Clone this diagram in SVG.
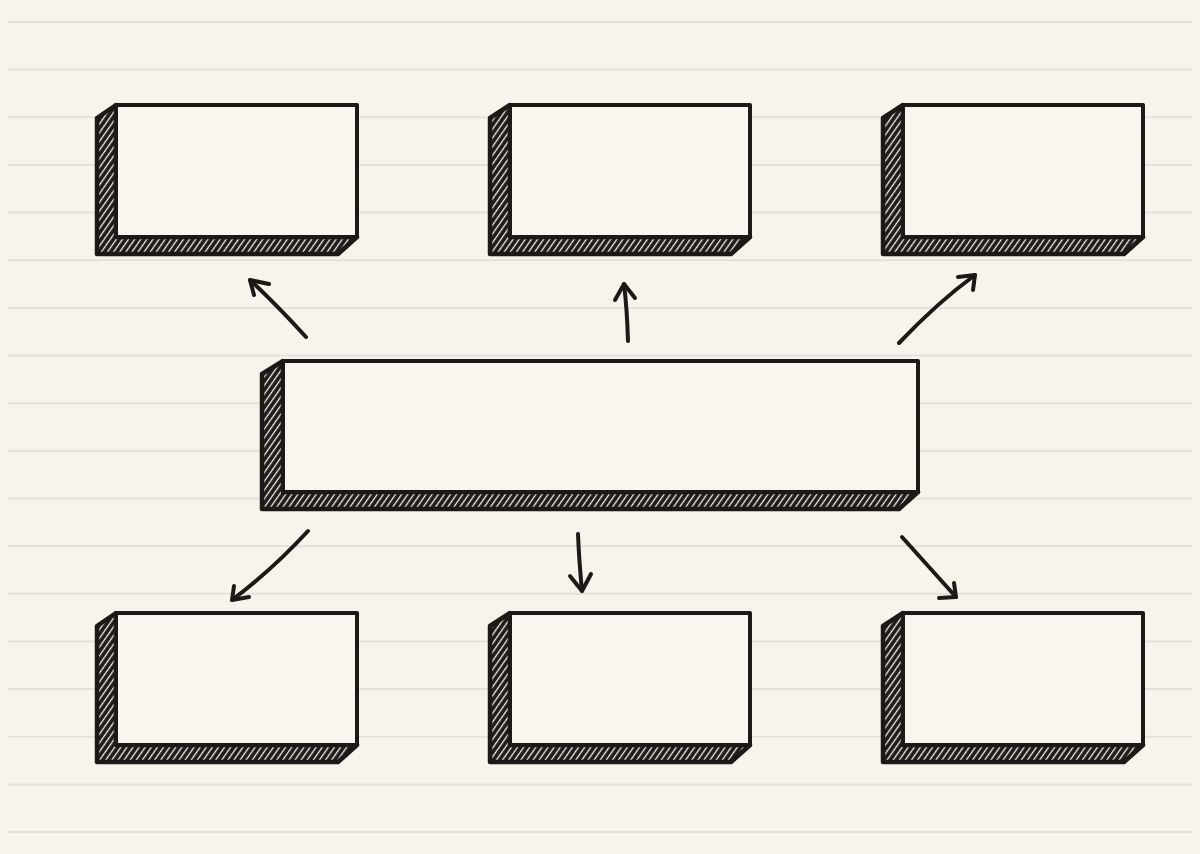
<svg xmlns="http://www.w3.org/2000/svg" width="1200" height="854" viewBox="0 0 1200 854">
  <defs>
    <pattern id="hatch" patternUnits="userSpaceOnUse" width="5" height="10" patternTransform="rotate(35)">
      <rect width="5" height="10" fill="#1c1917"/>
      <rect x="1.9" y="0" width="1.3" height="10" fill="#f6f2ec"/>
    </pattern>
    <style>
      .ruled { stroke: #e4e1dc; stroke-width: 2; }
      .shadow { fill: url(#hatch); stroke: #1c1917; stroke-width: 4.5; stroke-linejoin: round; }
      .front { fill: #faf6ef; stroke: #1c1917; stroke-width: 4; stroke-linejoin: round; }
      .arrow { fill: none; stroke: #1c1917; stroke-width: 4; stroke-linecap: round; stroke-linejoin: round; }
    </style>
  </defs>
  <rect width="1200" height="854" fill="#f8f4ec"/>
  <g id="ruled-lines">
    <line class="ruled" x1="8" y1="22" x2="1192" y2="22"/>
    <line class="ruled" x1="8" y1="69.6" x2="1192" y2="69.6"/>
    <line class="ruled" x1="8" y1="117.3" x2="1192" y2="117.3"/>
    <line class="ruled" x1="8" y1="164.9" x2="1192" y2="164.9"/>
    <line class="ruled" x1="8" y1="212.6" x2="1192" y2="212.6"/>
    <line class="ruled" x1="8" y1="260.2" x2="1192" y2="260.2"/>
    <line class="ruled" x1="8" y1="307.9" x2="1192" y2="307.9"/>
    <line class="ruled" x1="8" y1="355.5" x2="1192" y2="355.5"/>
    <line class="ruled" x1="8" y1="403.2" x2="1192" y2="403.2"/>
    <line class="ruled" x1="8" y1="450.8" x2="1192" y2="450.8"/>
    <line class="ruled" x1="8" y1="498.5" x2="1192" y2="498.5"/>
    <line class="ruled" x1="8" y1="546.1" x2="1192" y2="546.1"/>
    <line class="ruled" x1="8" y1="593.8" x2="1192" y2="593.8"/>
    <line class="ruled" x1="8" y1="641.4" x2="1192" y2="641.4"/>
    <line class="ruled" x1="8" y1="689.1" x2="1192" y2="689.1"/>
    <line class="ruled" x1="8" y1="736.7" x2="1192" y2="736.7"/>
    <line class="ruled" x1="8" y1="784.4" x2="1192" y2="784.4"/>
    <line class="ruled" x1="8" y1="832" x2="1192" y2="832"/>
  </g>

  <g id="box-top-left">
    <polygon class="shadow" points="116,105 97,118 97,254 338,254 357,237 116,237"/>
    <rect class="front" x="116" y="105" width="241" height="132"/>
  </g>
  <g id="box-top-middle">
    <polygon class="shadow" points="510,105 490,118 490,254 731,254 750,237 510,237"/>
    <rect class="front" x="510" y="105" width="240" height="132"/>
  </g>
  <g id="box-top-right">
    <polygon class="shadow" points="903,105 883,118 883,254 1124,254 1143,237 903,237"/>
    <rect class="front" x="903" y="105" width="240" height="132"/>
  </g>
  <g id="box-center">
    <polygon class="shadow" points="283,361 262,374 262,509 899,509 918,492 283,492"/>
    <rect class="front" x="283" y="361" width="635" height="131"/>
  </g>
  <g id="box-bottom-left">
    <polygon class="shadow" points="116,613 97,626 97,762 338,762 357,745 116,745"/>
    <rect class="front" x="116" y="613" width="241" height="132"/>
  </g>
  <g id="box-bottom-middle">
    <polygon class="shadow" points="510,613 490,626 490,762 731,762 750,745 510,745"/>
    <rect class="front" x="510" y="613" width="240" height="132"/>
  </g>
  <g id="box-bottom-right">
    <polygon class="shadow" points="903,613 883,626 883,762 1124,762 1143,745 903,745"/>
    <rect class="front" x="903" y="613" width="240" height="132"/>
  </g>

  <g id="connectors">
    <path class="arrow" d="M306,337 Q276,304 250,280"/>
    <path class="arrow" d="M254,295 L250,280 L269,284"/>

    <path class="arrow" d="M628,341 Q627,308 624,284"/>
    <path class="arrow" d="M615,300 L624,284 L635,298"/>

    <path class="arrow" d="M899,343 Q938,302 975,275"/>
    <path class="arrow" d="M958,277 L975,275 L973,290"/>

    <path class="arrow" d="M308,531 Q272,570 232,600"/>
    <path class="arrow" d="M234,586 L232,600 L249,597"/>

    <path class="arrow" d="M578,534 Q579,560 582,591"/>
    <path class="arrow" d="M570,576 L582,591 L591,574"/>

    <path class="arrow" d="M902,537 Q928,566 956,597"/>
    <path class="arrow" d="M939,598 L956,597 L954,583"/>
  </g>
</svg>
